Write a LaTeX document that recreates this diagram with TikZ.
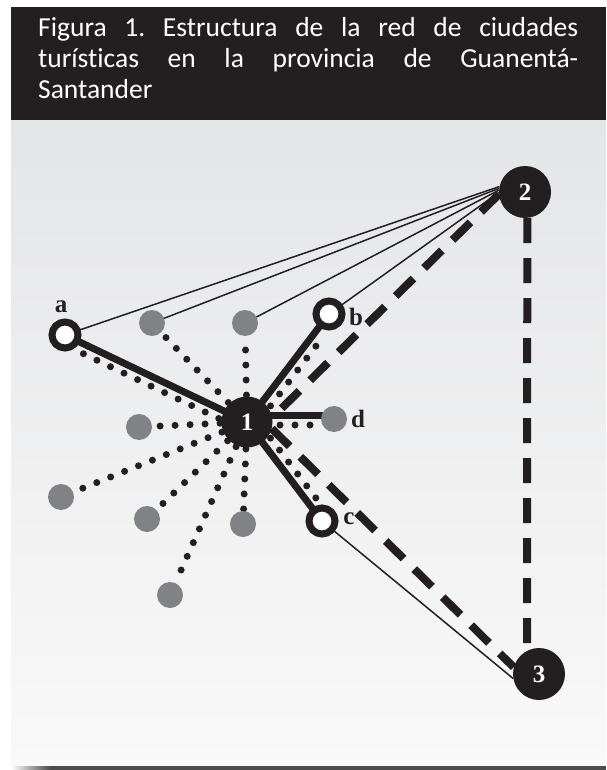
\documentclass[tikz,border=0pt]{standalone}
\usepackage{fontspec}
\setmainfont{Liberation Serif}
\newfontfamily\titlefont[Ligatures={NoCommon,NoRare}]{Carlito}
\usetikzlibrary{calc}
\definecolor{ink}{HTML}{231F20}
\definecolor{dotgray}{HTML}{808285}
\definecolor{bgtop}{HTML}{E4E5E7}
\definecolor{bgbot}{HTML}{F9F9F9}
\definecolor{rulegray}{HTML}{4D4D4D}
\pgfdeclarelayer{bg}
\pgfdeclarelayer{edges}
\pgfsetlayers{bg,edges,main}
\frenchspacing
\begin{document}
\begin{tikzpicture}[x=1pt,y=-1pt,
 hub/.style={circle,fill=ink,minimum size=51pt,inner sep=0pt,text=white,font=\fontsize{25}{25}\selectfont\bfseries},
 ringnode/.style={circle,draw=ink,line width=7pt,fill=white,minimum size=26pt,inner sep=0pt},
 graynode/.style={circle,fill=dotgray,minimum size=26pt,inner sep=0pt},
 lbl/.style={font=\fontsize{25}{25}\selectfont\bfseries,text=ink,inner sep=0pt},
 titletext/.style={anchor=base west,inner sep=0pt,text=white,font=\titlefont\fontsize{27.5}{31}\selectfont},
 thinline/.style={draw=ink,line width=1.5pt},
 thickline/.style={draw=ink,line width=7pt},
 dotline/.style={draw=ink,line width=7pt,line cap=round,dash pattern=on 0pt off 15pt},
 dashline/.style={draw=ink,line width=8pt,dash pattern=on 25pt off 15pt},
]
\useasboundingbox (0,0) rectangle (606,770);
\begin{pgfonlayer}{bg}
\fill[white] (0,0) rectangle (606,770);
\shade[top color=bgtop,bottom color=bgbot] (11,120) rectangle (606,766);
\fill[ink] (11,7) rectangle (606,120);
\fill[rulegray] (11,766) rectangle (606,770);
\shade[left color=white,right color=rulegray] (11,766) rectangle (50,770);
\end{pgfonlayer}

% title
\node[titletext] (title1) at (38,37) {\makebox[540pt][s]{Figura 1. Estructura de la red de ciudades}};
\node[titletext] (title2) at (38,68) {\makebox[540pt][s]{turísticas en la provincia de Guanentá-}};
\node[titletext] (title3) at (38,99) {Santander};

% nodes
\node[hub] (n1) at (247,422) {1};
\node[hub,minimum size=52pt] (n2) at (525,192) {2};
\node[hub,minimum size=52pt] (n3) at (539,674) {3};
\node[ringnode] (na) at (65,335) {};
\node[ringnode] (nb) at (329,314) {};
\node[ringnode] (nc) at (322,521) {};
\node[graynode] (nd) at (334,419) {};
\node[graynode] (g1) at (152,323) {};
\node[graynode] (g2) at (245,323) {};
\node[graynode] (g3) at (139,427) {};
\node[graynode] (g4) at (61,497) {};
\node[graynode] (g5) at (147,519) {};
\node[graynode] (g6) at (243,524) {};
\node[graynode] (g7) at (170,595) {};

\node[lbl] (la) at (61,307) {a};
\node[lbl] (lb) at (356,317) {b};
\node[lbl] (lc) at (349,519) {c};
\node[lbl] (ld) at (358,419) {d};

\begin{pgfonlayer}{edges}
% dotted rays
\foreach \g in {g1,g2,g3,g4,g5,g6,g7}
  \draw[dotline,shorten <=27pt,shorten >=14pt] (n1.center) -- (\g.center);
\draw[dotline,shorten <=27pt,shorten >=19pt] ([shift={(-3.9,8.1)}]n1.center) -- ([shift={(-3.9,8.1)}]na.center);
\draw[dotline,shorten <=27pt,shorten >=19pt] ([shift={(7.2,5.4)}]n1.center) -- ([shift={(7.2,5.4)}]nb.center);
\draw[dotline,shorten <=27pt,shorten >=19pt] ([shift={(7.2,-5.4)}]n1.center) -- ([shift={(7.2,-5.4)}]nc.center);
\draw[dotline,shorten <=33pt,shorten >=14pt] ([shift={(0,3)}]n1.center) -- ([shift={(0,6)}]nd.center);
% thin lines
\draw[thinline] (na.center) -- (n2.168);
\draw[thinline] (g1.center) -- (n2.172);
\draw[thinline] (g2.center) -- (n2.176);
\draw[thinline] (nb.center) -- (n2.181);
\draw[thinline] (nc.center) -- (n3.190);
% thick lines
\draw[thickline] (na.center) -- (n1.center);
\draw[thickline] (nb.center) -- (n1.center);
\draw[thickline] (nc.center) -- (n1.center);
\draw[thickline] ([shift={(0,-4)}]nd.center) -- ([shift={(0,-7)}]n1.center);
% dashed lines
\draw[dashline] (n2.185) -- (n1.10);
\draw[dashline] (n1.-15) -- (n3.165);
\draw[dashline] (n2.-85) -- (n3.117.5);
\end{pgfonlayer}
\end{tikzpicture}
\end{document}
